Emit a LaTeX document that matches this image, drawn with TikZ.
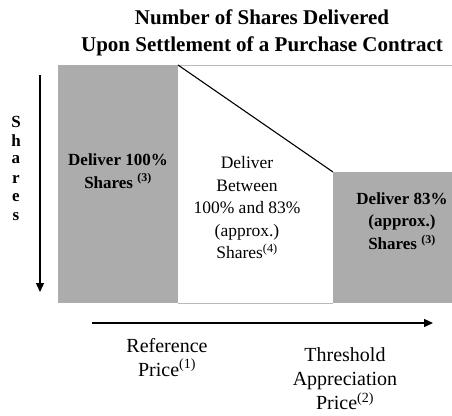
\documentclass[tikz,border=0pt]{standalone}
\usepackage{fontspec}
\setmainfont{Liberation Serif}
\usetikzlibrary{arrows.meta}
\definecolor{boxgray}{RGB}{172,172,172}
\begin{document}
\begin{tikzpicture}[x=1pt,y=-1pt]
		\tikzstyle{graybox}=[fill=boxgray]
		\tikzstyle{thinline}=[gray!55,line width=0.9pt]
		\tikzstyle{myarrow}=[line width=1.4pt,-{Triangle[length=9pt,width=8pt]}]
		\tikzstyle{boldtext}=[font=\fontsize{17}{22.5}\selectfont\bfseries,align=center]
		\tikzstyle{plaintext}=[font=\fontsize{17.5}{22.5}\selectfont,align=center]
		\tikzstyle{pricetext}=[font=\fontsize{20}{24}\selectfont,align=center]
		\useasboundingbox (0,0) rectangle (452,415);

		\node[font=\fontsize{21}{27}\selectfont\bfseries,align=center] (title) at (262,33) {Number of Shares Delivered\\Upon Settlement of a Purchase Contract};

		\fill[graybox] (58,65) rectangle (178,303);
		\fill[graybox] (333,172) rectangle (452,303);
		\draw[thinline] (178,65) -- (452,65);
		\draw[thinline] (178,303) -- (333,303);
		\draw[line width=1.1pt] (178,65) -- (333,172);

		\node[boldtext] (full) at (118,171) {Deliver 100\%\\Shares \textsuperscript{(3)}};
		\node[plaintext] (between) at (247,208) {Deliver\\Between\\100\% and 83\%\\(approx.)\\Shares\textsuperscript{(4)}};
		\node[boldtext] (part) at (402,221) {Deliver 83\%\\(approx.)\\Shares \textsuperscript{(3)}};

		\foreach \l [count=\i] in {S,h,a,r,e,s} { \node[font=\fontsize{17}{17}\selectfont\bfseries] (s\i) at (16,{103+19*\i}) {\l}; }

		\coordinate (vtop) at (40,75);
		\coordinate (vbot) at (40,292);
		\draw[myarrow] (vtop) -- (vbot);
		\coordinate (hleft) at (92,323);
		\coordinate (hright) at (433,323);
		\draw[myarrow] (hleft) -- (hright);

		\node[pricetext] (ref) at (167,357.5) {Reference\\Price\textsuperscript{(1)}};
		\node[pricetext] (thr) at (345,379) {Threshold\\Appreciation\\Price\textsuperscript{(2)}};
	\end{tikzpicture}
\end{document}
